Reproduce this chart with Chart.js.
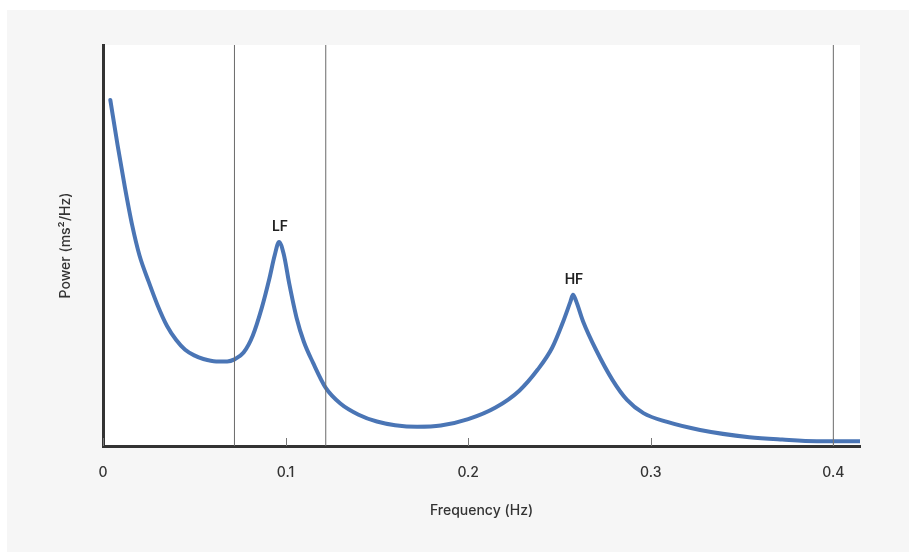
<!DOCTYPE html>
<html>
<head>
<meta charset="utf-8">
<title>HRV power spectrum</title>
<script src="https://cdn.jsdelivr.net/npm/chart.js@4.4.1/dist/chart.umd.min.js"></script>
<style>
    html, body { margin: 0; padding: 0; background: #fff; }
    #panel { position: absolute; left: 7px; top: 10px; right: 0; bottom: 0; background: #f6f6f6; }
    #wrap { position: absolute; left: 0; top: 0; width: 909px; height: 552px; }
</style>
</head>
<body>
<div id="panel"></div>
<div id="wrap"><canvas id="psd-chart"></canvas></div>
<script>
// spectrum (frequency in Hz, power in arbitrary units 0-100)
const freqs = [0.004, 0.008, 0.012, 0.016, 0.020, 0.025, 0.030, 0.035, 0.040, 0.045,
    0.050, 0.055, 0.062, 0.068, 0.072, 0.077, 0.082, 0.087, 0.091, 0.094,
    0.0964, 0.099, 0.102, 0.106, 0.110, 0.115, 0.122, 0.130, 0.140, 0.150,
    0.160, 0.172, 0.185, 0.200, 0.215, 0.228, 0.238, 0.246, 0.252, 0.256,
    0.2574, 0.259, 0.263, 0.270, 0.279, 0.287, 0.296, 0.309, 0.327, 0.354,
    0.372, 0.391, 0.4146];
const power = [86.3, 75.0, 64.5, 55.0, 47.5, 41.0, 35.0, 30.0, 26.5, 24.0,
    22.6, 21.7, 21.1, 21.1, 21.6, 23.3, 27.5, 34.5, 41.5, 47.5,
    50.9, 47.8, 40.5, 32.0, 26.0, 20.8, 14.5, 10.6, 7.8, 6.1,
    5.2, 4.8, 5.1, 6.7, 9.6, 13.8, 19.0, 24.5, 31.0, 36.0,
    37.7, 36.3, 31.0, 24.0, 16.5, 11.5, 8.2, 6.0, 4.0, 2.2,
    1.6, 1.2, 1.2];

const bandEdges = [0.072, 0.122, 0.4];
const peakLabels = ['LF', 'HF'];
const peakFreqs = [0.0964, 0.2574];
const peakPower = [50.9, 37.7];
const xTicks = [0, 0.1, 0.2, 0.3, 0.4];

const FONT = "Inter, 'Noto Sans', sans-serif";

const plotBackground = {
    id: 'plotBackground',
    beforeDraw(chart) {
        const { ctx, chartArea: a } = chart;
        ctx.save();
        ctx.fillStyle = '#fff';
        ctx.fillRect(a.left, a.top, a.right - a.left, a.bottom - a.top);
        ctx.restore();
    }
};

// small tick marks pointing up into the plot, like the original
const innerTicks = {
    id: 'innerTicks',
    afterDatasetsDraw(chart) {
        const { ctx, scales, chartArea } = chart;
        ctx.save();
        ctx.strokeStyle = '#777';
        ctx.lineWidth = 1;
        scales.x.ticks.forEach((t, i) => {
            const px = Math.round(scales.x.getPixelForTick(i)) + 0.5;
            ctx.beginPath();
            ctx.moveTo(px, chartArea.bottom);
            ctx.lineTo(px, chartArea.bottom - 8);
            ctx.stroke();
        });
        ctx.restore();
    }
};

const peakNames = {
    id: 'peakNames',
    afterDatasetsDraw(chart) {
        const { ctx, scales } = chart;
        ctx.save();
        ctx.font = `600 14px ${FONT}`;
        ctx.fillStyle = '#222';
        ctx.textAlign = 'center';
        ctx.textBaseline = 'middle';
        peakLabels.forEach((name, i) => {
            const px = scales.x.getPixelForValue(peakFreqs[i]);
            const py = scales.y.getPixelForValue(peakPower[i]);
            ctx.fillText(name, px + 1, py - 15);
        });
        ctx.restore();
    }
};

const bandSets = bandEdges.map(f => ({
    data: [{ x: f, y: 0 }, { x: f, y: 100 }],
    borderColor: '#6a6a6a',
    borderWidth: 1,
    pointRadius: 0,
    tension: 0
}));

new Chart(document.getElementById('psd-chart'), {
    type: 'line',
    data: {
        datasets: [
            ...bandSets,
            {
                data: freqs.map((f, i) => ({ x: f, y: power[i] })),
                borderColor: '#4a75b5',
                borderWidth: 4,
                pointRadius: 0,
                cubicInterpolationMode: 'monotone',
                borderCapStyle: 'round'
            }
        ]
    },
    options: {
        responsive: true,
        maintainAspectRatio: false,
        animation: false,
        layout: { padding: { top: 45, right: 49, left: 0, bottom: 0 } },
        plugins: { legend: { display: false }, tooltip: { enabled: false } },
        scales: {
            x: {
                type: 'linear',
                min: 0,
                max: 0.4146,
                afterFit: s => { s.height = 106; },
                afterBuildTicks: s => { s.ticks = xTicks.map(v => ({ value: v })); },
                ticks: {
                    includeBounds: false,
                    padding: 18,
                    color: '#333',
                    font: { family: FONT, size: 14, weight: '500' },
                    callback: v => String(v)
                },
                grid: { display: false, drawTicks: false },
                border: { display: true, color: '#333', width: 3 },
                title: {
                    display: true,
                    text: 'Frequency (Hz)',
                    color: '#333',
                    font: { family: FONT, size: 14, weight: '500' },
                    padding: { top: 0, bottom: 33 }
                }
            },
            y: {
                min: 0,
                max: 100,
                afterFit: s => { s.width = 103; },
                ticks: { display: false },
                grid: { display: false },
                border: { display: true, color: '#333', width: 3 },
                title: {
                    display: true,
                    text: 'Power (ms²/Hz)',
                    color: '#333',
                    font: { family: FONT, size: 14, weight: '500' },
                    padding: { top: 57, bottom: 0 }
                }
            }
        }
    },
    plugins: [plotBackground, innerTicks, peakNames]
});
</script>
</body>
</html>
